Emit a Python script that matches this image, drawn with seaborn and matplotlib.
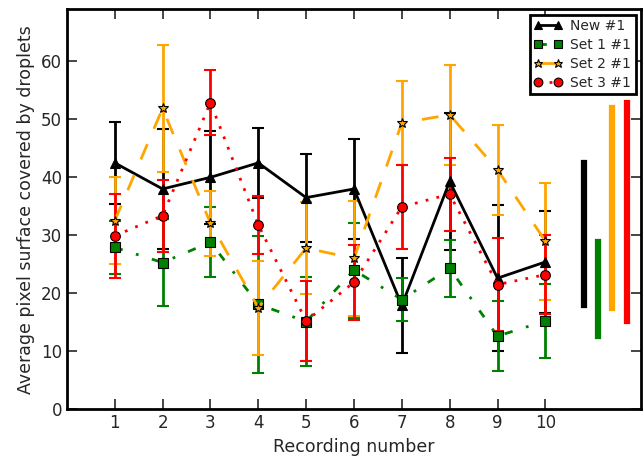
import numpy as np
import pandas as pd
import matplotlib
matplotlib.use("Agg")
import matplotlib.pyplot as plt
import seaborn as sns

recordings = [1, 2, 3, 4, 5, 6, 7, 8, 9, 10]

new1_mean = [42.5, 38.0, 40.0, 42.5, 36.5, 38.0, 17.9, 39.3, 22.6, 25.4]
new1_err = [7.1, 10.4, 8.0, 6.0, 7.6, 8.7, 8.2, 11.8, 12.6, 8.8]

set1_mean = [27.9, 25.3, 28.8, 18.1, 15.1, 24.0, 18.9, 24.3, 12.6, 15.2]
set1_err = [4.5, 7.5, 6.0, 11.8, 7.7, 8.2, 3.7, 4.9, 6.1, 6.4]

set2_mean = [32.5, 51.9, 32.1, 17.5, 27.8, 26.0, 49.4, 50.8, 41.3, 29.0]
set2_err = [7.5, 11.0, 5.6, 8.1, 7.9, 10.0, 7.3, 8.6, 7.8, 10.1]

set3_mean = [29.9, 33.4, 52.9, 31.8, 15.2, 21.9, 34.9, 37.1, 21.5, 23.2]
set3_err = [7.2, 6.2, 5.6, 5.0, 6.9, 6.5, 7.3, 6.3, 8.0, 6.8]

labels = ["New #1", "Set 1 #1", "Set 2 #1", "Set 3 #1"]
colors = ["black", "#008000", "#FFA500", "#FF0000"]
markers = ["^", "s", "*", "o"]
styles = ["-", (0, (3, 5, 1, 5)), (0, (6, 6)), (0, (1, 3))]
range_x = [10.8, 11.1, 11.4, 11.7]

sns.set_style("white", {"xtick.direction": "in", "ytick.direction": "in",
                        "xtick.top": True, "ytick.right": True,
                        "xtick.bottom": True, "ytick.left": True,
                        "axes.edgecolor": "black"})
plt.rcParams["font.family"] = ["DejaVu Sans"]

fig = plt.figure(figsize=(6.43, 4.67), dpi=100)
ax = fig.add_axes([0.104, 0.124, 0.893, 0.856])

means = [new1_mean, set1_mean, set2_mean, set3_mean]
errs = [new1_err, set1_err, set2_err, set3_err]

for m, e, lab, c, mk, ls, rx in zip(means, errs, labels, colors, markers, styles, range_x):
    df = pd.DataFrame({"rec": recordings, "val": m})
    ax.errorbar(recordings, m, yerr=e, fmt="none", ecolor=c, elinewidth=2,
                capsize=4.5, capthick=1.5, zorder=2)
    sns.lineplot(data=df, x="rec", y="val", ax=ax, color=c, linestyle=ls,
                 linewidth=2, marker=mk, markersize=7,
                 markeredgecolor="black", markeredgewidth=0.8,
                 markerfacecolor=c, label=lab, zorder=3)
    vl = ax.vlines(rx, min(m), max(m), color=c, linewidth=4.5, zorder=2)
    vl.set_capstyle("projecting")

ax.set_xlim(0, 12)
ax.set_ylim(0, 69)
ax.set_xticks(recordings)
ax.set_yticks([0, 10, 20, 30, 40, 50, 60])
ax.tick_params(axis="both", which="major", labelsize=12, length=7, width=1.2,
               direction="in", top=True, right=True)
for s in ax.spines.values():
    s.set_linewidth(2)
    s.set_color("black")

ax.set_xlabel("Recording number", fontsize=12.5)
ax.set_ylabel("Average pixel surface covered by droplets", fontsize=12.5)

leg = ax.legend(loc="upper right", numpoints=2, fontsize=10, fancybox=False,
                framealpha=1, edgecolor="black", handlelength=2.0,
                markerscale=0.9, borderpad=0.3, labelspacing=0.35,
                handletextpad=0.6, borderaxespad=0.4)
leg.get_frame().set_linewidth(2)

fig.savefig("out.png", dpi=100)
